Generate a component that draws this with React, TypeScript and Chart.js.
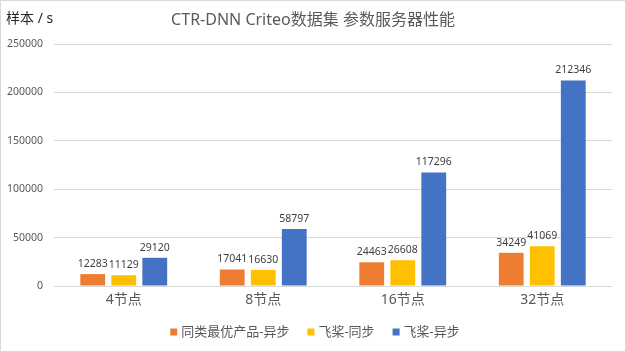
import React, { useEffect, useRef } from "react";
import { Chart, registerables } from "chart.js";

Chart.register(...registerables);

const categories = ["4节点", "8节点", "16节点", "32节点"];
const seriesNames = ["同类最优产品-异步", "飞桨-同步", "飞桨-异步"];
const competitorAsync = [12283, 17041, 24463, 34249];
const paddleSync = [11129, 16630, 26608, 41069];
const paddleAsync = [29120, 58797, 117296, 212346];
const colors = ["#ED7D31", "#FFC000", "#4472C4"];
const titleText = "CTR-DNN Criteo数据集 参数服务器性能";
const unitText = "样本 / s";
const yMax = 250000;
const yStep = 50000;

const FONT = "'Noto Sans', 'Noto Sans CJK SC', sans-serif";

const decorPlugin = {
  id: "decor",
  beforeDraw(chart: any) {
    const { ctx, width, height } = chart;
    ctx.save();
    ctx.fillStyle = "#ffffff";
    ctx.fillRect(0, 0, width, height);
    ctx.strokeStyle = "#d9d9d9";
    ctx.lineWidth = 1;
    ctx.strokeRect(0.5, 0.5, width - 1, height - 1);
    ctx.restore();
  },
  afterDraw(chart: any) {
    const { ctx } = chart;
    ctx.save();
    // title
    ctx.fillStyle = "#595959";
    ctx.font = `16px ${FONT}`;
    ctx.textAlign = "center";
    ctx.textBaseline = "middle";
    ctx.fillText(titleText, 313, 20);
    // unit
    ctx.fillStyle = "#262626";
    ctx.font = `14px ${FONT}`;
    ctx.textAlign = "left";
    ctx.fillText(unitText, 6, 19);
    // data labels
    ctx.fillStyle = "#404040";
    ctx.font = `10.5px ${FONT}`;
    ctx.textAlign = "center";
    ctx.textBaseline = "bottom";
    chart.data.datasets.forEach((ds: any, di: number) => {
      const meta = chart.getDatasetMeta(di);
      meta.data.forEach((bar: any, i: number) => {
        ctx.fillText(String(ds.data[i]), bar.x, bar.y - 5);
      });
    });
    // legend
    ctx.font = `13px ${FONT}`;
    ctx.textBaseline = "middle";
    ctx.textAlign = "left";
    const box = 7;
    const gapBox = 4;
    const gapItem = 18;
    const widths = seriesNames.map((n) => box + gapBox + ctx.measureText(n).width);
    const total = widths.reduce((a, b) => a + b, 0) + gapItem * (widths.length - 1);
    let x = 315 - total / 2;
    const y = 332;
    seriesNames.forEach((n, i) => {
      ctx.fillStyle = colors[i];
      ctx.fillRect(x, y - box / 2, box, box);
      ctx.fillStyle = "#595959";
      ctx.fillText(n, x + box + gapBox, y);
      x += widths[i] + gapItem;
    });
    ctx.restore();
  },
};

export default function App() {
  const ref = useRef<HTMLCanvasElement>(null);
  useEffect(() => {
    if (!ref.current) return;
    const data = [competitorAsync, paddleSync, paddleAsync];
    const chart = new Chart(ref.current, {
      type: "bar",
      data: {
        labels: categories,
        datasets: seriesNames.map((name, i) => ({
          label: name,
          data: data[i],
          backgroundColor: colors[i],
          borderWidth: 0,
          categoryPercentage: 0.667,
          barPercentage: 0.8,
        })),
      },
      options: {
        responsive: false,
        animation: false,
        layout: { padding: { top: 44, right: 14, bottom: 36, left: 0 } },
        plugins: {
          legend: { display: false },
          title: { display: false },
          tooltip: { enabled: false },
        },
        scales: {
          x: {
            grid: { display: false, drawTicks: false },
            border: { display: false },
            ticks: { color: "#595959", font: { size: 14, family: FONT }, padding: 6 },
            afterFit: (s: any) => {
              s.height = 30;
            },
          },
          y: {
            min: 0,
            max: yMax,
            ticks: {
              stepSize: yStep,
              color: "#595959",
              font: { size: 10.5, family: FONT },
              padding: 11,
              callback: (v: any) => String(v),
            },
            grid: { color: "#d9d9d9", drawTicks: false },
            border: { display: false },
            afterFit: (s: any) => {
              s.width = 54;
            },
          },
        },
      },
      plugins: [decorPlugin],
    });
    return () => chart.destroy();
  }, []);
  return (
    <div style={{ position: "absolute", left: 0, top: 0, width: 626, height: 352 }}>
      <canvas ref={ref} width={626} height={352} style={{ display: "block" }} />
    </div>
  );
}
